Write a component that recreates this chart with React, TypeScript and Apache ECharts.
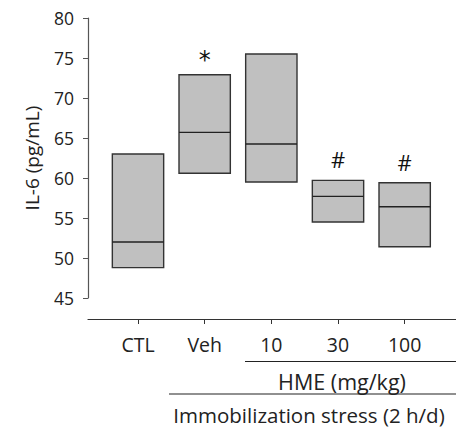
import React, { useEffect, useRef } from "react";
import * as echarts from "echarts";

const categories = ["CTL", "Veh", "10", "30", "100"];
const boxTop = [63.0, 72.9, 75.5, 59.7, 59.4];
const boxMedian = [52.0, 65.7, 64.25, 57.7, 56.4];
const boxBottom = [48.8, 60.6, 59.5, 54.5, 51.4];
const marks = ["", "*", "", "#", "#"];
const yTicks = [45, 50, 55, 60, 65, 70, 75, 80];
const groupLabels = ["HME (mg/kg)", "Immobilization stress (2 h/d)"];

const FONT = "'Open Sans', 'Noto Sans', sans-serif";

export default function App() {
  const ref = useRef<HTMLDivElement>(null);
  useEffect(() => {
    document.body.style.margin = "0";
    const chart = echarts.init(ref.current!, null, { renderer: "svg" });
    const data = categories.map((_, i) => [i + 1, boxBottom[i], boxMedian[i], boxTop[i], i]);
    chart.setOption({
      animation: false,
      textStyle: { fontFamily: FONT },
      grid: { left: 88, right: 0, top: 18, bottom: 131 },
      xAxis: {
        type: "value",
        min: 0.25,
        max: 5.77,
        offset: 21,
        splitLine: { show: false },
        axisLine: { show: true, lineStyle: { color: "#333", width: 1.2 } },
        axisTick: { show: true, customValues: [1, 2, 3, 4, 5], length: 5, lineStyle: { color: "#333" } },
        axisLabel: {
          customValues: [1, 2, 3, 4, 5],
          formatter: (v: number) => categories[Math.round(v) - 1] ?? "",
          fontSize: 19.5,
          color: "#222",
          margin: 15,
          fontFamily: FONT,
        },
      },
      yAxis: {
        type: "value",
        min: yTicks[0],
        max: yTicks[yTicks.length - 1],
        interval: 5,
        name: "IL-6 (pg/mL)",
        nameLocation: "middle",
        nameGap: 47,
        nameTextStyle: { fontSize: 19, color: "#222", fontFamily: FONT },
        splitLine: { show: false },
        axisLine: { show: true, lineStyle: { color: "#555", width: 1.2 } },
        axisTick: { show: true, length: 5, lineStyle: { color: "#555" } },
        axisLabel: { fontSize: 17.5, color: "#222", margin: 14, fontFamily: FONT },
      },
      series: [
        {
          type: "custom",
          data,
          encode: { x: 0, y: [1, 2, 3] },
          renderItem: (params: any, api: any) => {
            const x = api.value(0);
            const lo = api.coord([x, api.value(1)]);
            const med = api.coord([x, api.value(2)]);
            const hi = api.coord([x, api.value(3)]);
            const idx = api.value(4);
            const halfW = api.size([0.385, 0])[0];
            const mark = marks[idx];
            const children: any[] = [
              {
                type: "rect",
                shape: { x: lo[0] - halfW, y: hi[1], width: halfW * 2, height: lo[1] - hi[1] },
                style: { fill: "#c0c0c0", stroke: "#333", lineWidth: 1.4 },
              },
              {
                type: "line",
                shape: { x1: med[0] - halfW, y1: med[1], x2: med[0] + halfW, y2: med[1] },
                style: { stroke: "#222", lineWidth: 1.4 },
              },
            ];
            if (mark) {
              children.push({
                type: "text",
                style: {
                  text: mark,
                  x: hi[0],
                  y: hi[1] - (mark === "*" ? 15 : 21),
                  align: "center",
                  verticalAlign: "middle",
                  fontSize: mark === "*" ? 24 : 22,
                  fill: "#111",
                  fontFamily: mark === "*" ? "'DejaVu Sans', sans-serif" : FONT,
                },
              });
            }
            return { type: "group", children };
          },
        },
      ],
      graphic: [
        { type: "line", shape: { x1: 245, y1: 361.5, x2: 456, y2: 361.5 }, style: { stroke: "#222", lineWidth: 1.2 } },
        {
          type: "text",
          style: { text: groupLabels[0], x: 342, y: 381.5, align: "center", verticalAlign: "middle", fontSize: 21.5, fill: "#222", fontFamily: FONT },
        },
        { type: "line", shape: { x1: 169, y1: 394, x2: 456, y2: 394 }, style: { stroke: "#222", lineWidth: 1.2 } },
        {
          type: "text",
          style: { text: groupLabels[1], x: 309, y: 414.5, align: "center", verticalAlign: "middle", fontSize: 20.5, fill: "#222", fontFamily: FONT },
        },
      ],
    });
    return () => chart.dispose();
  }, []);
  return <div ref={ref} style={{ width: 456, height: 429 }} />;
}
